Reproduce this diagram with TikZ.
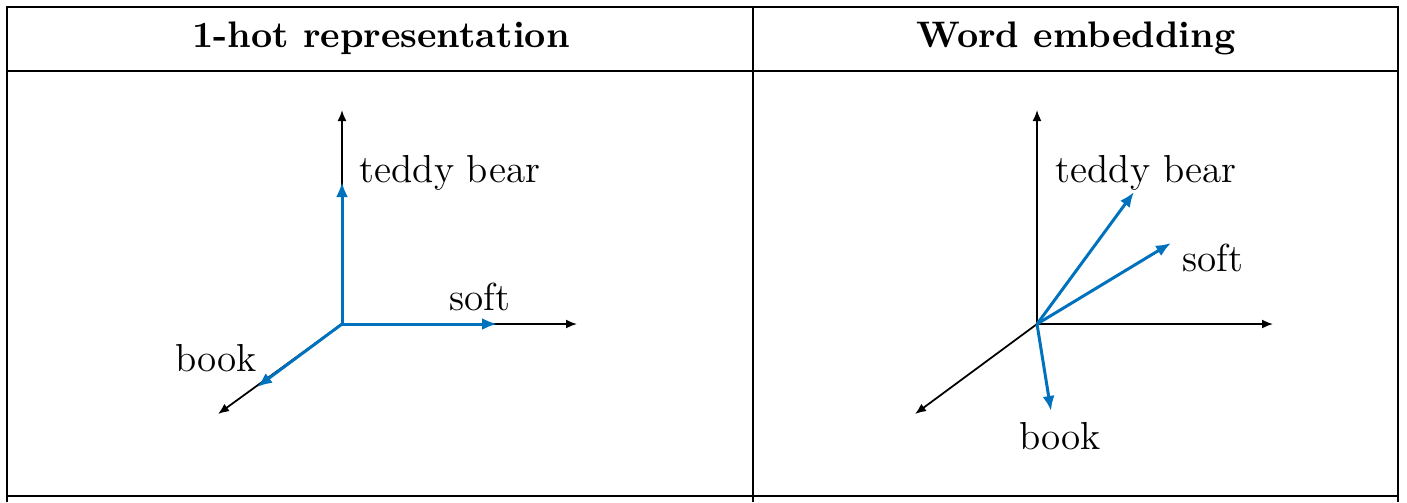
\documentclass[tikz,border=0pt]{standalone}
\usepackage{tikz}
\usetikzlibrary{arrows.meta, positioning}
\definecolor{VecBlue}{HTML}{0072BD}

\begin{document}
\begin{tikzpicture}[
      x=0.01cm, y=-0.01cm,
      grid/.style={line width=0.6pt, draw=black},
      head/.style={font=\fontsize{10.5}{13}\selectfont\bfseries},
      lbl/.style={font=\fontsize{11.1}{13}\selectfont, inner sep=1pt},
      axis/.style={-{Latex[length=1.1mm, width=0.9mm]}, line width=0.5pt, draw=black},
      vec/.style={-{Latex[length=1.5mm, width=1.2mm]}, line width=0.85pt, draw=VecBlue}]
    \useasboundingbox (0,0) rectangle (1407,502);
    % table
    \draw[grid] (7,502) -- (7,7) -- (1398,7) -- (1398,502);
    \draw[grid] (753,7) -- (753,502);
    \draw[grid] (7,71) -- (1398,71);
    \draw[grid] (7,496) -- (1398,496);
    \node[head] (h1) at (381,38) {1-hot representation};
    \node[head] (h2) at (1076,38) {Word embedding};
    % 1-hot
    \coordinate (o1) at (342,324);
    \coordinate (up1) at (342,110);
    \coordinate (rt1) at (577,324);
    \coordinate (dl1) at (218,414);
    \coordinate (ted1) at (342,182);
    \coordinate (sof1) at (497,324);
    \coordinate (boo1) at (257,387);
    \draw[axis] (o1) -- (up1);
    \draw[axis] (o1) -- (rt1);
    \draw[axis] (o1) -- (dl1);
    \draw[vec] (o1) -- (ted1);
    \draw[vec] (o1) -- (sof1);
    \draw[vec] (o1) -- (boo1);
    \node[lbl] (tb1) at (450,173) {teddy bear};
    \node[lbl] (sl1) at (480,297) {soft};
    \node[lbl] (bl1) at (216,358) {book};
    % embedding
    \coordinate (o2) at (1037,324);
    \coordinate (up2) at (1037,110);
    \coordinate (rt2) at (1273,324);
    \coordinate (dl2) at (915,414);
    \coordinate (ted2) at (1134,192);
    \coordinate (sof2) at (1171,243);
    \coordinate (boo2) at (1051,411);
    \draw[axis] (o2) -- (up2);
    \draw[axis] (o2) -- (rt2);
    \draw[axis] (o2) -- (dl2);
    \draw[vec] (o2) -- (ted2);
    \draw[vec] (o2) -- (sof2);
    \draw[vec] (o2) -- (boo2);
    \node[lbl] (tb2) at (1146,173) {teddy bear};
    \node[lbl] (sl2) at (1213,258) {soft};
    \node[lbl] (bl2) at (1060,436) {book};
  \end{tikzpicture}
\end{document}
